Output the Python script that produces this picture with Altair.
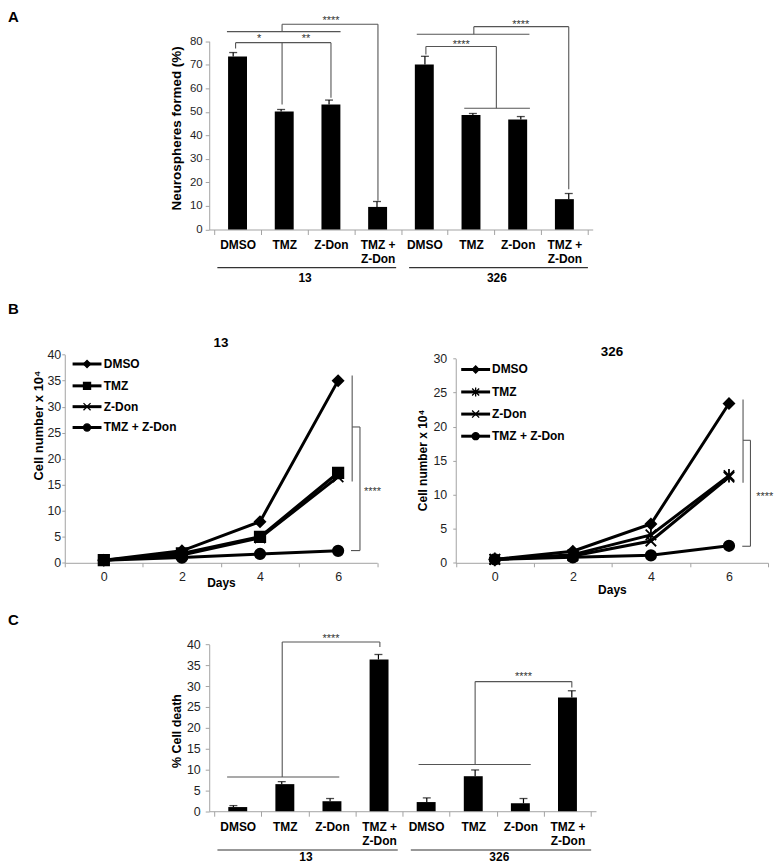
import altair as alt
import pandas as pd

FONT = "Liberation Sans"
W, H = 766, 849

treatments = ["DMSO", "TMZ", "Z-Don", "TMZ + Z-Don"]
cell_lines = ["13", "326"]

# ---------------- Panel A: neurospheres formed (%) ----------------
neuro_13 = [73.5, 50.2, 53.1, 9.6]
neuro_13_err = [1.7, 0.8, 1.9, 2.3]
neuro_326 = [70.1, 48.7, 46.8, 12.9]
neuro_326_err = [3.5, 0.6, 1.2, 2.4]

# ---------------- Panel B: cell number x 10^4 over days ----------------
days = [0, 2, 4, 6]
grow13_dmso = [0.5, 2.3, 7.9, 35.0]
grow13_tmz = [0.5, 1.8, 5.0, 17.3]
grow13_zdon = [0.5, 1.5, 4.8, 16.5]
grow13_combo = [0.5, 1.0, 1.7, 2.3]
grow13_err_day6 = [0.7, 0.5, 0.5, 0.2]
grow326_dmso = [0.5, 1.7, 5.7, 23.4]
grow326_tmz = [0.5, 1.2, 4.1, 12.8]
grow326_zdon = [0.5, 1.0, 3.2, 12.6]
grow326_combo = [0.5, 0.8, 1.1, 2.5]
grow326_err_day6 = [0.6, 0.3, 0.3, 0.2]

# ---------------- Panel C: % cell death ----------------
death_13 = [1.0, 6.5, 2.4, 36.4]
death_13_err = [0.35, 0.6, 0.65, 1.2]
death_326 = [2.2, 8.4, 1.9, 27.3]
death_326_err = [1.0, 1.5, 1.15, 1.6]

# significance brackets, in data units (x = bar index or day, y = value)
sig_a = [
    [(0.05, 76.9), (0.05, 79.4), (2.04, 79.4), (2.04, 56.0)],
    [(1.02, 79.4), (1.02, 53.1)],
    [(-0.13, 84.1), (2.24, 84.1)],
    [(1.02, 84.1), (1.02, 87.2), (3.02, 87.2), (3.02, 12.2)],
    [(3.83, 83.0), (6.18, 83.0)],
    [(5.02, 83.0), (5.02, 86.2), (7.0, 86.2), (7.0, 17.1)],
    [(4.02, 74.4), (4.02, 77.8), (5.49, 77.8), (5.49, 51.5)],
    [(4.82, 51.5), (6.19, 51.5)],
]
stars_a = [("*", 0.54, 80.9), ("**", 1.52, 80.9), ("****", 2.04, 88.5),
           ("****", 4.76, 78.3), ("****", 6.0, 87.1)]
sig_c = [
    [(-0.13, 8.2), (2.19, 8.2)],
    [(1.01, 8.2), (1.01, 40.6), (3.03, 40.6), (3.03, 39.4)],
    [(3.83, 11.2), (6.15, 11.2)],
    [(5.0, 11.2), (5.0, 31.1), (7.0, 31.1), (7.0, 29.7)],
]
stars_c = [("****", 2.02, 41.3), ("****", 6.0, 32.2)]
sig_b13 = [
    [(6.36, 36.0), (6.36, 15.6)],
    [(6.36, 26.1), (6.56, 26.1), (6.56, 2.35), (6.33, 2.35)],
]
stars_b13 = [("****", 6.66, 13.6)]
sig_b326 = [
    [(6.36, 24.0), (6.36, 11.75)],
    [(6.36, 18.0), (6.55, 18.0), (6.55, 2.43), (6.34, 2.43)],
]
stars_b326 = [("****", 6.70, 9.7)]


# ---------------- helpers ----------------
def segs(polys):
    rows = []
    for poly in polys:
        for (x1, y1), (x2, y2) in zip(poly[:-1], poly[1:]):
            rows.append({"x": x1, "y": y1, "x2": x2, "y2": y2})
    return pd.DataFrame(rows)


def lin(domain, rng):
    return alt.Scale(domain=domain, range=rng, nice=False, zero=False)


AXIS_BASE = dict(grid=False, domainColor="#a3a3a3", tickColor="#a3a3a3",
                 domainWidth=1, tickWidth=1, labelFont=FONT, titleFont=FONT,
                 labelColor="#1f1f1f", titleColor="black",
                 labelOverlap=False, labelFlush=False)


def axis(**kw):
    d = dict(AXIS_BASE)
    d.update(kw)
    return alt.Axis(**d)


cat_lines = ",".join(
    "[" + ",".join("'" + p + "'" for p in t.replace(" + ", " +|").split("|")) + "]"
    for t in treatments)
cat_expr = "datum.value % 1 === 0 ? [" + cat_lines + "][datum.value % 4] : ''"


def cat_axis(offset):
    return axis(orient="bottom", offset=offset,
                values=[i / 2 for i in range(-1, 16)], labelExpr=cat_expr,
                tickOpacity={"condition": {"test": "datum.value % 1 !== 0", "value": 1}, "value": 0},
                tickSize=5, labelPadding=5, labelFontSize=12, labelFontWeight="bold",
                labelColor="black", labelLineHeight=14, title=None)


def day_axis(offset, title_y):
    return axis(orient="bottom", offset=offset, values=list(range(-1, 8)),
                labelExpr="datum.value % 2 === 0 ? datum.label : ''",
                tickOpacity={"condition": {"test": "datum.value % 2 !== 0", "value": 1}, "value": 0},
                tickSize=4, labelPadding=4, labelFontSize=12.5,
                title="Days", titleFontSize=12, titleFontWeight="bold",
                titleY=title_y, titleBaseline="middle")


def bar_units(vals, errs, xs, ys, x_axis, y_axis, sig, stars, under_y, glabel_y):
    df = pd.DataFrame({"idx": list(range(len(vals))), "val": vals,
                       "hi": [v + e for v, e in zip(vals, errs)]})

    def X(f, ax=None):
        return alt.X(f, type="quantitative", scale=xs, axis=ax)

    def Y(f, ax=None):
        return alt.Y(f, type="quantitative", scale=ys, axis=ax)

    def X2(f):
        return alt.X2(f)

    bars = alt.Chart(df).mark_bar(size=19, color="black", orient="vertical").encode(
        x=X("idx", x_axis), y=Y("val", y_axis), y2=alt.datum(0))
    err = alt.Chart(df).mark_rule(color="black", strokeWidth=1.2).encode(
        x=X("idx"), y=Y("val"), y2="hi:Q")
    caps = alt.Chart(df).mark_tick(orient="horizontal", size=8, thickness=1.3,
                                   color="black").encode(x=X("idx"), y=Y("hi"))
    sg = alt.Chart(segs(sig)).mark_rule(color="#555555", strokeWidth=1.1).encode(
        x=X("x"), y=Y("y"), x2="x2:Q", y2="y2:Q")
    st = alt.Chart(pd.DataFrame(stars, columns=["t", "x", "y"])).mark_text(
        font=FONT, fontSize=11, color="#333333", baseline="middle").encode(
        x=X("x"), y=Y("y"), text="t:N")
    n = len(treatments)
    under = pd.DataFrame({"x": [g * n - 0.33 for g in range(len(cell_lines))],
                          "x2": [g * n + n - 0.6 for g in range(len(cell_lines))],
                          "y": [under_y] * len(cell_lines)})
    ul = alt.Chart(under).mark_rule(color="#333333", strokeWidth=1.2).encode(
        x=X("x"), x2="x2:Q", y=Y("y"))
    gl = alt.Chart(pd.DataFrame({"x": [g * n + (n - 1) / 2 for g in range(len(cell_lines))],
                                 "y": [glabel_y] * len(cell_lines), "t": cell_lines})).mark_text(
        font=FONT, fontSize=12, fontWeight="bold", color="black", baseline="middle").encode(
        x=X("x"), y=Y("y"), text="t:N")
    return [bars, err, caps, sg, st, ul, gl]


X_PATH = "M-1,-1L1,1M-1,1L1,-1"
STAR_PATH = "M-1,-1L1,1M-1,1L1,-1M0,-1.3L0,1.3"


def growth_units(series, err6, xs, ys, x_axis, y_axis, shapes, leg_y, leg_x0, leg_x1,
                 leg_tx, title, title_y, sig, stars):
    rows = []
    for name, vals in zip(treatments, series):
        for d, v in zip(days, vals):
            rows.append({"series": name, "day": d, "val": v})
    df = pd.DataFrame(rows)
    edf = pd.DataFrame({"day": [days[-1]] * len(series),
                        "lo": [s[-1] - e for s, e in zip(series, err6)],
                        "hi": [s[-1] + e for s, e in zip(series, err6)]})
    shp = alt.Scale(domain=treatments, range=shapes)

    def X(f, ax=None):
        return alt.X(f, type="quantitative", scale=xs, axis=ax)

    def Y(f, ax=None):
        return alt.Y(f, type="quantitative", scale=ys, axis=ax)

    lines = alt.Chart(df).mark_line(color="black", strokeWidth=3).encode(
        x=X("day", x_axis), y=Y("val", y_axis), detail="series:N")
    eb = alt.Chart(edf).mark_rule(color="#444444", strokeWidth=1.2).encode(
        x=X("day"), y=Y("lo"), y2="hi:Q")
    pts = alt.Chart(df).mark_point(filled=True, color="black", stroke="black",
                                   strokeWidth=1.8, size=110, opacity=1).encode(
        x=X("day"), y=Y("val"),
        shape=alt.Shape("series:N", scale=shp, legend=None))
    leg = pd.DataFrame({"series": treatments, "ly": leg_y,
                        "x0": [leg_x0] * 4, "x1": [leg_x1] * 4,
                        "xm": [(leg_x0 + leg_x1) / 2] * 4, "tx": [leg_tx] * 4})
    lg_line = alt.Chart(leg).mark_rule(color="black", strokeWidth=3).encode(
        x=X("x0"), x2="x1:Q", y=Y("ly"))
    lg_pt = alt.Chart(leg).mark_point(filled=True, color="black", stroke="black",
                                      strokeWidth=1.3, size=50, opacity=1).encode(
        x=X("xm"), y=Y("ly"), shape=alt.Shape("series:N", scale=shp, legend=None))
    lg_tx = alt.Chart(leg).mark_text(font=FONT, fontSize=12, fontWeight="bold",
                                     align="left", baseline="middle", color="black").encode(
        x=X("tx"), y=Y("ly"), text="series:N")
    ttl = alt.Chart(pd.DataFrame({"x": [(days[0] + days[-1]) / 2], "y": [title_y],
                                  "t": [title]})).mark_text(
        font=FONT, fontSize=13.5, fontWeight="bold", color="black", baseline="middle").encode(
        x=X("x"), y=Y("y"), text="t:N")
    sg = alt.Chart(segs(sig)).mark_rule(color="#555555", strokeWidth=1.1).encode(
        x=X("x"), y=Y("y"), x2="x2:Q", y2="y2:Q")
    st = alt.Chart(pd.DataFrame(stars, columns=["t", "x", "y"])).mark_text(
        font=FONT, fontSize=11, color="#333333", baseline="middle", align="left").encode(
        x=X("x"), y=Y("y"), text="t:N")
    return [lines, eb, pts, lg_line, lg_pt, lg_tx, ttl, sg, st]


# ---------------- panels (scale ranges are plot-area pixels) ----------------
A_X = lin([-0.5, 7.5], [202, 587])
A_Y = lin([0, 80], [220.7, 31.7])
units_a = bar_units(
    neuro_13 + neuro_326, neuro_13_err + neuro_326_err, A_X, A_Y,
    cat_axis(-(H - 220.7)),
    axis(orient="left", offset=-202, values=list(range(0, 81, 10)), tickSize=4,
         labelPadding=3, labelFontSize=11.5, title="Neurospheres formed (%)",
         titleFontSize=13.5, titleFontWeight="bold", titleX=-33, titleY=118.7,
         titleBaseline="middle"),
    sig_a, stars_a, -16.2, -20.4)

C_X = lin([-0.5, 7.5], [202, 590.3])
C_Y = lin([0, 40], [804.7, 637.3])
units_c = bar_units(
    death_13 + death_326, death_13_err + death_326_err, C_X, C_Y,
    cat_axis(-(H - 804.7)),
    axis(orient="left", offset=-202, values=list(range(0, 41, 5)), tickSize=4,
         labelPadding=5, labelFontSize=12.5, title="% Cell death",
         titleFontSize=12.5, titleFontWeight="bold", titleX=-33, titleY=723.7,
         titleBaseline="middle"),
    sig_c, stars_c, -9.3, -11.0)

BL_X = lin([-1, 7], [57, 370.6])
BL_Y = lin([0, 40], [555.3, 346.3])
units_bl = growth_units(
    [grow13_dmso, grow13_tmz, grow13_zdon, grow13_combo], grow13_err_day6,
    BL_X, BL_Y, day_axis(-(H - 555.3), 20),
    axis(orient="left", offset=-57, values=list(range(0, 41, 5)), tickSize=3,
         labelPadding=1, labelFontSize=12.5, title="Cell number x 10⁴",
         titleFontSize=13, titleFontWeight="bold", titleX=-26.7, titleY=417,
         titleBaseline="middle"),
    ["diamond", "square", X_PATH, "circle"],
    [38.2, 34.0, 30.0, 26.0], -0.8, -0.06, 0.0, "13", 42.2, sig_b13, stars_b13)

BR_X = lin([-1, 7], [449.5, 763])
BR_Y = lin([0, 30], [555.3, 350.3])
units_br = growth_units(
    [grow326_dmso, grow326_tmz, grow326_zdon, grow326_combo], grow326_err_day6,
    BR_X, BR_Y, day_axis(-(H - 555.3), 27),
    axis(orient="left", offset=-449.5, values=list(range(0, 31, 5)), tickSize=3,
         labelPadding=6, labelFontSize=12.5, title="Cell number x 10⁴",
         titleFontSize=12, titleFontWeight="bold", titleX=-33.4, titleY=452,
         titleBaseline="middle"),
    ["diamond", STAR_PATH, X_PATH, "circle"],
    [28.4, 25.1, 21.85, 18.6], -0.86, -0.12, -0.07, "326", 31.0, sig_b326, stars_b326)


def letter(t, py):
    return alt.Chart(pd.DataFrame({"t": [t]})).mark_text(
        font=FONT, fontSize=15, fontWeight="bold", color="black",
        align="left", baseline="top").encode(
        text="t:N", x=alt.value(0), y=alt.value(py))


letters = [letter("A", 0), letter("B", 294), letter("C", 606)]

# every unit is a direct child: each gets its own (identically defined) scales
chart = alt.layer(*units_a, *units_bl, *units_br, *units_c, *letters).resolve_scale(
    x="independent", y="independent", shape="independent"
).resolve_axis(x="independent", y="independent").properties(
    width=W, height=H, padding=0
).configure_view(stroke=None)

chart.save("out.html", embed_options={"renderer": "svg", "actions": False})
